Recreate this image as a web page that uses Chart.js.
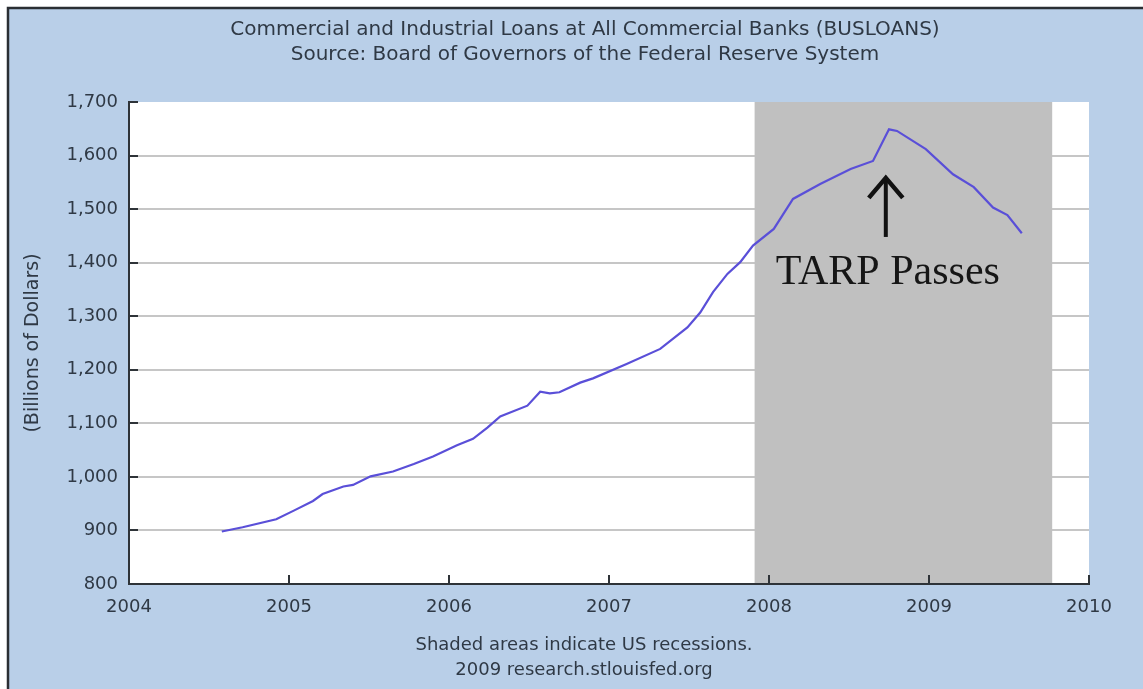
<!DOCTYPE html>
<html lang="en">
<head>
<meta charset="UTF-8">
<title>Commercial and Industrial Loans (BUSLOANS)</title>
<script src="https://cdn.jsdelivr.net/npm/chart.js"></script>
<style>
  html, body { margin: 0; padding: 0; background: #fff; }
</style>
</head>
<body>
<canvas id="loansChart" width="1143" height="689"></canvas>

<script>
    // data (decimal year, billions of dollars)
    const years = [2004.58, 2004.71, 2004.92, 2005.03, 2005.15, 2005.21, 2005.34, 2005.40, 2005.51, 2005.65,
                   2005.78, 2005.90, 2006.05, 2006.15, 2006.24, 2006.32, 2006.49, 2006.57, 2006.63, 2006.69,
                   2006.82, 2006.90, 2007.11, 2007.32, 2007.49, 2007.57, 2007.65, 2007.74, 2007.82, 2007.90,
                   2008.03, 2008.15, 2008.32, 2008.51, 2008.65, 2008.75, 2008.80, 2008.98, 2009.15, 2009.28,
                   2009.40, 2009.49, 2009.58];
    const loans = [898, 906, 921, 937, 955, 968, 982, 985, 1001, 1010,
                   1024, 1038, 1059, 1071, 1092, 1113, 1133, 1159, 1156, 1158,
                   1176, 1184, 1211, 1239, 1279, 1307, 1345, 1379, 1401, 1432,
                   1463, 1519, 1547, 1575, 1590, 1649, 1646, 1612, 1565, 1541,
                   1503, 1489, 1455];
    const yearTicks = [2004, 2005, 2006, 2007, 2008, 2009, 2010];
    const loanTicks = [800, 900, 1000, 1100, 1200, 1300, 1400, 1500, 1600, 1700];
    const recession = [2007.91, 2009.77];
    const titleLines = ['Commercial and Industrial Loans at All Commercial Banks (BUSLOANS)',
                        'Source: Board of Governors of the Federal Reserve System'];
    const footerLines = ['Shaded areas indicate US recessions.', '2009 research.stlouisfed.org'];
    const yTitle = '(Billions of Dollars)';
    const note = { text: 'TARP Passes', x: 2008.73, tip: 1562, tail: 1448, baseline: 1360 };

    const bgBlue = '#b9cfe8';
    const axisColor = '#2e3338';
    const textColor = '#2f3945';

    const framePlugin = {
        id: 'frame',
        beforeDraw(chart) {
            const c = chart.ctx;
            c.save();
            c.fillStyle = '#ffffff';
            c.fillRect(0, 0, chart.width, chart.height);
            c.fillStyle = bgBlue;
            c.fillRect(7, 7, chart.width - 7, chart.height - 7);
            c.strokeStyle = '#2a2e33';
            c.lineWidth = 2.5;
            c.beginPath();
            c.moveTo(8, chart.height);
            c.lineTo(8, 8);
            c.lineTo(chart.width, 8);
            c.stroke();
            const a = chart.chartArea;
            c.fillStyle = '#ffffff';
            c.fillRect(a.left, a.top, a.right - a.left, a.bottom - a.top);
            c.restore();
        }
    };

    const recessionPlugin = {
        id: 'recession',
        beforeDatasetsDraw(chart) {
            const c = chart.ctx, a = chart.chartArea, x = chart.scales.x;
            const x0 = x.getPixelForValue(recession[0]);
            const x1 = x.getPixelForValue(recession[1]);
            c.save();
            c.fillStyle = '#c0c0c0';
            c.fillRect(x0, a.top, x1 - x0, a.bottom - a.top - 1);
            c.restore();
        }
    };

    // short tick marks pointing into the plot
    const innerTicks = {
        id: 'innerTicks',
        afterDatasetsDraw(chart) {
            const c = chart.ctx, a = chart.chartArea;
            const xs = chart.scales.x, ys = chart.scales.y;
            c.save();
            c.strokeStyle = axisColor;
            c.lineWidth = 2;
            c.beginPath();
            yearTicks.forEach(v => {
                const px = Math.round(xs.getPixelForValue(v));
                c.moveTo(px, a.bottom);
                c.lineTo(px, a.bottom - 9);
            });
            loanTicks.forEach(v => {
                const py = Math.round(ys.getPixelForValue(v));
                c.moveTo(a.left, py);
                c.lineTo(a.left + 9, py);
            });
            c.stroke();
            c.restore();
        }
    };

    const textPlugin = {
        id: 'texts',
        afterDraw(chart) {
            const c = chart.ctx, a = chart.chartArea;
            const xs = chart.scales.x, ys = chart.scales.y;
            c.save();
            c.fillStyle = textColor;
            c.textAlign = 'center';
            c.textBaseline = 'middle';
            c.font = '20px "DejaVu Sans"';
            c.fillText(titleLines[0], 585, 30);
            c.fillText(titleLines[1], 585, 55);
            c.font = '18px "DejaVu Sans"';
            c.fillText(footerLines[0], 584, 645);
            c.fillText(footerLines[1], 584, 670);

            c.save();
            c.translate(33, (a.top + a.bottom) / 2);
            c.rotate(-Math.PI / 2);
            c.font = '19px "DejaVu Sans"';
            c.fillText(yTitle, 0, 0);
            c.restore();

            // TARP annotation
            const ax = xs.getPixelForValue(note.x);
            const tipY = ys.getPixelForValue(note.tip);
            const tailY = ys.getPixelForValue(note.tail);
            c.strokeStyle = '#111';
            c.lineWidth = 4;
            c.beginPath();
            c.moveTo(ax, tailY);
            c.lineTo(ax, tipY + 2);
            c.stroke();
            c.lineWidth = 4.5;
            c.beginPath();
            c.moveTo(ax - 17, tipY + 22);
            c.lineTo(ax, tipY + 2);
            c.lineTo(ax + 17, tipY + 22);
            c.stroke();

            c.fillStyle = '#161616';
            c.font = '42px "Liberation Serif"';
            c.textBaseline = 'alphabetic';
            c.fillText(note.text, ax + 2, ys.getPixelForValue(note.baseline));
            c.restore();
        }
    };

    const ctx = document.getElementById('loansChart').getContext('2d');
    new Chart(ctx, {
        type: 'line',
        data: {
            datasets: [{
                label: 'BUSLOANS',
                data: years.map((yr, i) => ({ x: yr, y: loans[i] })),
                borderColor: '#5a4fd8',
                borderWidth: 2.2,
                pointRadius: 0,
                tension: 0,
                fill: false
            }]
        },
        options: {
            responsive: false,
            animation: false,
            layout: { padding: { left: 7, top: 102, right: 54, bottom: 0 } },
            plugins: {
                legend: { display: false },
                tooltip: { enabled: false }
            },
            scales: {
                x: {
                    type: 'linear',
                    min: 2004,
                    max: 2010,
                    afterBuildTicks: s => { s.ticks = yearTicks.map(v => ({ value: v })); },
                    afterFit: s => { s.height = 105; },
                    grid: { display: false, drawTicks: false },
                    border: { color: axisColor, width: 2 },
                    ticks: {
                        callback: v => String(v),
                        font: { family: 'DejaVu Sans', size: 18 },
                        color: textColor,
                        padding: 13,
                        maxRotation: 0,
                        autoSkip: false
                    }
                },
                y: {
                    min: 800,
                    max: 1700,
                    afterBuildTicks: s => { s.ticks = loanTicks.map(v => ({ value: v })); },
                    afterFit: s => { s.width = 122; },
                    grid: {
                        color: c => (c.tick && (c.tick.value === 800 || c.tick.value === 1700)) ? 'rgba(0,0,0,0)' : '#c6c6c6',
                        lineWidth: 2,
                        drawTicks: false
                    },
                    border: { color: axisColor, width: 2 },
                    ticks: {
                        callback: v => v.toLocaleString('en-US'),
                        font: { family: 'DejaVu Sans', size: 18 },
                        color: textColor,
                        padding: 11
                    }
                }
            }
        },
        plugins: [framePlugin, recessionPlugin, innerTicks, textPlugin]
    });
</script>
</body>
</html>
